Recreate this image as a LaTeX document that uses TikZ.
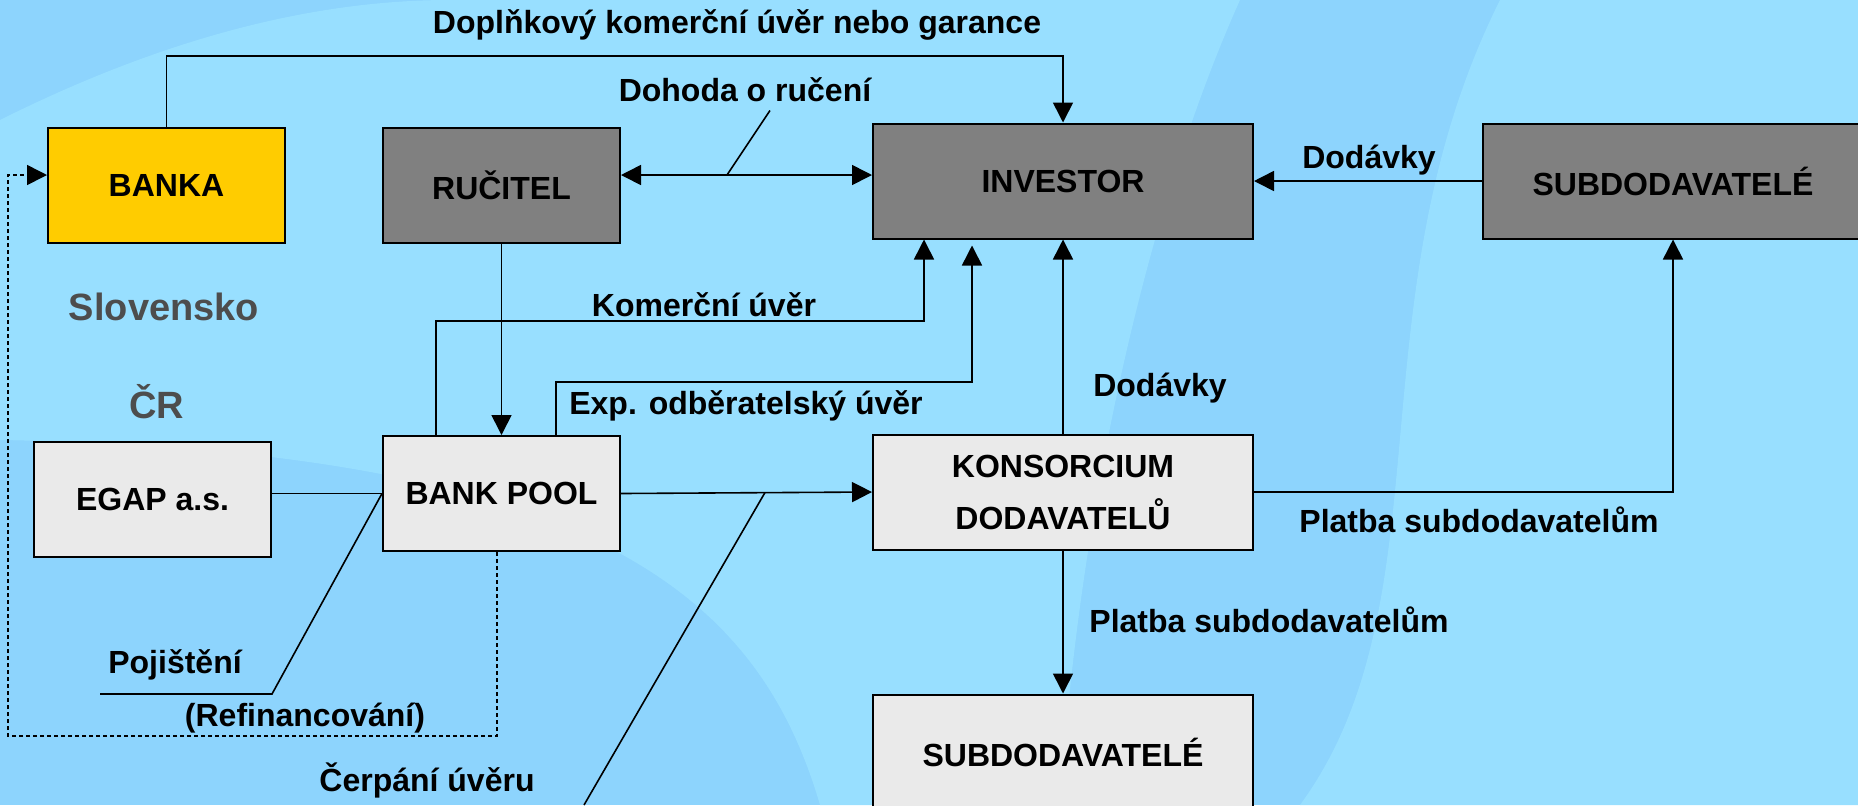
\documentclass[tikz,border=0pt]{standalone}
\usepackage{fontspec}
\setmainfont{Liberation Sans}
\usetikzlibrary{arrows.meta}
\tikzset{>={Triangle[length=10pt,width=10pt]}}
\definecolor{bgblue}{HTML}{8DD4FD}
\definecolor{bglight}{HTML}{98DFFF}
\definecolor{boxgrey}{HTML}{808080}
\definecolor{boxlight}{HTML}{EAEAEA}
\definecolor{boxyellow}{HTML}{FFCC00}
\definecolor{landgrey}{HTML}{4D4D4D}
\tikzset{
  party/.style={draw, line width=1pt, minimum width=118.5pt, minimum height=57.5pt,
    inner sep=0pt, align=center, font=\fontsize{16}{26}\selectfont\bfseries},
  wideparty/.style={party, minimum width=190pt},
  flow/.style={line width=.8pt},
  refin/.style={flow, dash pattern=on 2pt off 1.5pt},
  lbl/.style={inner sep=0pt, font=\fontsize{16}{19}\selectfont\bfseries},
  land/.style={inner sep=0pt, text=landgrey, font=\fontsize{19}{23}\selectfont\bfseries}
}

\begin{document}
\begin{tikzpicture}[x=.5pt, y=-.5pt]
    \useasboundingbox (0, 0) rectangle (1858, 805);
    \begin{scope}
        \clip (0, 0) rectangle (1858, 805);
        \fill[bgblue] (0, 0) rectangle (1858, 805);
        \fill[bglight] (0, 120) .. controls (200, 20) and (350, 0) .. (450, 0) -- (1240, 0)
            .. controls (1150, 200) and (1080, 500) .. (1060, 805) -- (820, 805)
            .. controls (760, 600) and (600, 450) .. (0, 440) -- cycle;
        \fill[bglight] (1500, 0) -- (1858, 0) -- (1858, 805) -- (1300, 805)
            .. controls (1450, 600) and (1350, 300) .. (1500, 0);
    \end{scope}

    \node[party, fill=boxyellow] (banka) at (166.5, 185.5) {BANKA};
    \node[party, fill=boxgrey] (rucitel) at (501.5, 185.5) {RUČITEL};
    \node[wideparty, fill=boxgrey] (investor) at (1063, 181) {INVESTOR};
    \node[wideparty, fill=boxgrey] (subtop) at (1673, 181) {SUBDODAVATELÉ};
    \node[party, fill=boxlight] (egap) at (152.5, 499.5) {EGAP a.s.};
    \node[party, fill=boxlight] (bankpool) at (501.5, 493.5) {BANK POOL};
    \node[wideparty, fill=boxlight] (konsorcium) at (1063, 492) {KONSORCIUM\\DODAVATELŮ};
    \node[wideparty, fill=boxlight] (subbottom) at (1063, 752) {SUBDODAVATELÉ};

    \node[land] (slovensko) at (164, 307) {Slovensko};
    \node[land] (cr) at (157, 402) {ČR};

    \node[lbl] (garance) at (737, 25) {Doplňkový komerční úvěr nebo garance};
    \node[lbl] (dohoda) at (745, 90) {Dohoda o ručení};
    \node[lbl] (komercni) at (704, 305) {Komerční úvěr};
    \node[lbl] (exportni) at (746, 406) {Exp. odběratelský úvěr};
    \node[lbl] (dodavky) at (1369, 160) {Dodávky};
    \node[lbl] (dodavkyk) at (1160, 388) {Dodávky};
    \node[lbl] (platba) at (1479, 520) {Platba subdodavatelům};
    \node[lbl] (platbak) at (1269, 620) {Platba subdodavatelům};
    \node[lbl] (pojisteni) at (175, 665) {Pojištění};
    \node[lbl] (refinanc) at (305, 718) {(Refinancování)};
    \node[lbl] (cerpani) at (427, 780) {Čerpání úvěru};

    \coordinate (dohodax) at (727, 175);
    \coordinate (pojknee) at (272, 694);
    \coordinate (pojend) at (100, 694);
    \coordinate (cerpx) at (765, 492.5);
    \coordinate (cerpend) at (584, 805);
    \coordinate (refcorner) at (8, 736);

    \draw[flow, ->] (banka.north) -- ++(0, -71) -| (investor.north);
    \draw[flow, <->] (rucitel.east |- dohodax) -- (investor.west |- dohodax);
    \draw[flow] (dohodax) -- ([xshift=12.5pt, yshift=-4pt]dohoda.south);
    \draw[flow, ->] (subtop.west) -- (investor.east);
    \draw[flow, ->] (rucitel.south) -- (bankpool.north);
    \draw[flow, ->] ([xshift=-32.75pt]bankpool.north) -- ++(0, -114) -| ([xshift=-69.5pt]investor.south);
    \draw[flow, ->] ([xshift=27.25pt]bankpool.north) -- ++(0, -53) -| ([xshift=-45.5pt, yshift=-3pt]investor.south);
    \draw[flow, ->] (konsorcium.north) -- (investor.south);
    \draw[flow, ->] (konsorcium.east) -| (subtop.south);
    \draw[flow, ->] (konsorcium.south) -- (subbottom.north);
    \draw[flow] (egap.east |- bankpool.west) -- (bankpool.west);
    \draw[flow, ->] (bankpool.east) -- (konsorcium.west);
    \draw[flow] (cerpx) -- (cerpend);
    \draw[flow] (bankpool.west) -- (pojknee) -- (pojend);
    \draw[refin, ->] ([xshift=-2.25pt]bankpool.south) |- (refcorner) |- ([yshift=5.25pt]banka.west);
\end{tikzpicture}
\end{document}
